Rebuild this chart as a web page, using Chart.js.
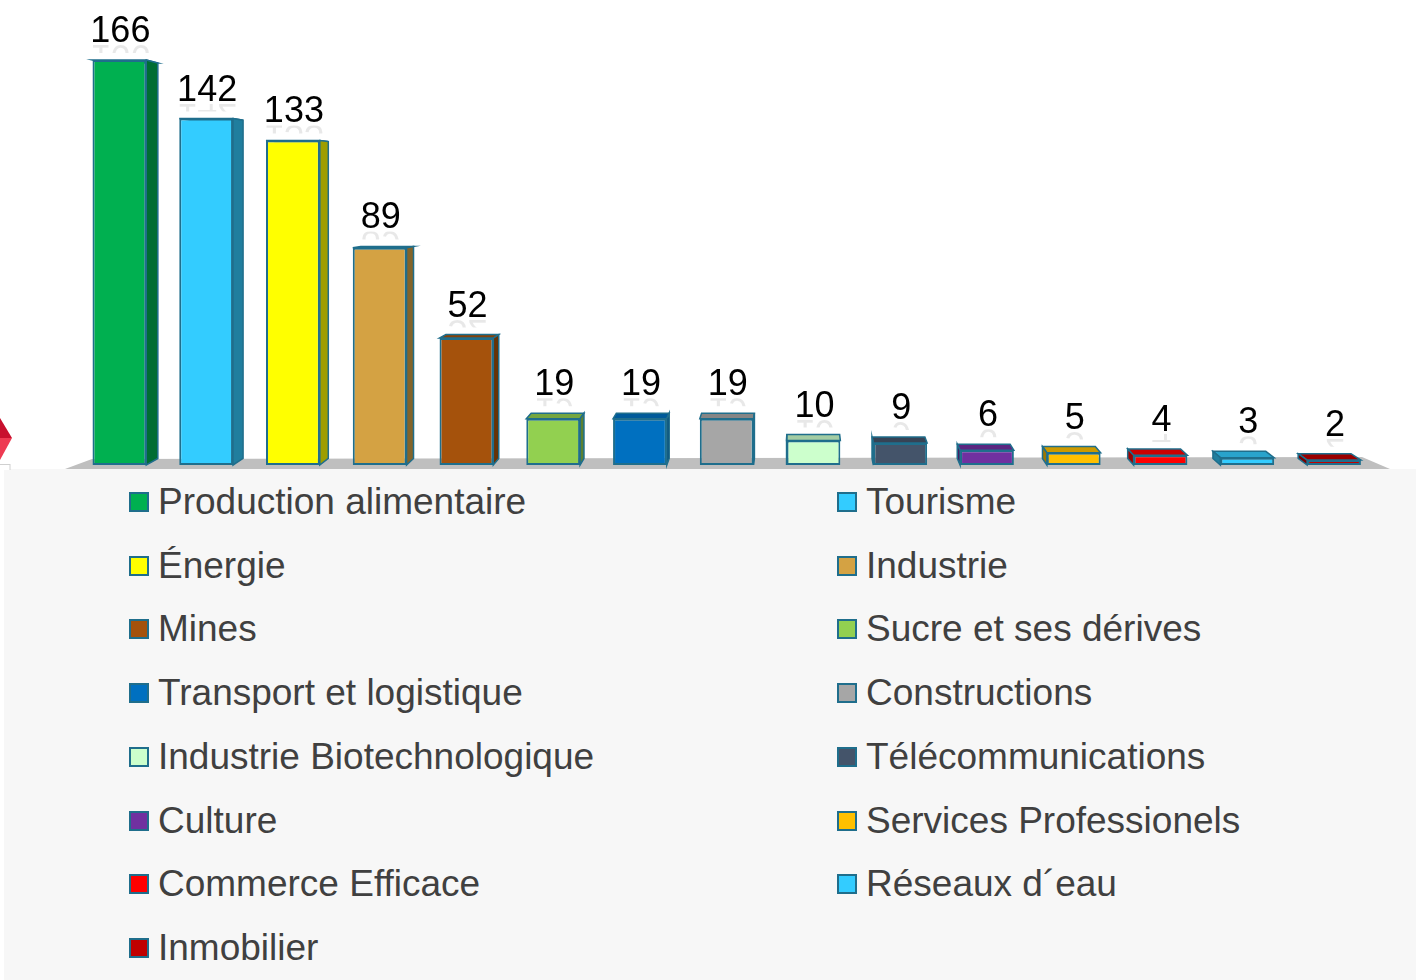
<!DOCTYPE html>
<html>
<head>
<meta charset="utf-8">
<script src="https://cdn.jsdelivr.net/npm/chart.js@4.4.0/dist/chart.umd.min.js"></script>
<style>
  body { margin:0; background:#fff; width:1416px; height:980px; overflow:hidden; position:relative; font-family:"Liberation Sans", Arial, sans-serif; }
  #wrap { position:absolute; left:0; top:0; width:1416px; height:470px; }
  #panel { position:absolute; left:4px; top:469px; width:1412px; height:511px; background:#f7f7f7; }
  #legend { position:absolute; left:0; top:470px; width:1416px; }
  .item { position:absolute; height:63px; line-height:63px; font-size:37px; color:#404040; white-space:nowrap; }
  .item .box { position:absolute; left:0; top:22px; width:20px; height:20px; box-sizing:border-box; border:2px solid #1f6e8c; }
  .item .txt { position:absolute; left:29px; top:0; }
</style>
</head>
<body>
<div id="panel"></div>
<div id="wrap"><canvas id="myChart" width="1416" height="470"></canvas></div>
<div id="legend"></div>
<script>
// data
var categories = ["Production alimentaire", "Tourisme", "Énergie", "Industrie", "Mines",
  "Sucre et ses dérives", "Transport et logistique", "Constructions", "Industrie Biotechnologique",
  "Télécommunications", "Culture", "Services Professionels", "Commerce Efficace", "Réseaux d´eau", "Inmobilier"];
var values = [166, 142, 133, 89, 52, 19, 19, 19, 10, 9, 6, 5, 4, 3, 2];
var barColors = ["#00b050", "#33ccff", "#ffff00", "#d4a243", "#a5520c",
  "#92d050", "#0070c0", "#a6a6a6", "#ccffcc", "#44546a",
  "#7030a0", "#ffc000", "#ff0000", "#33ccff", "#c00000"];

var edgeColor = "#1f6e8c";
var vp = {x: 800, y: 187, kx: 0.0177, ky: 0.0236};   // perspective for the 3d look

function shade(hex, f){
  var n = parseInt(hex.slice(1), 16);
  var r = Math.round(((n >> 16) & 255) * f), g = Math.round(((n >> 8) & 255) * f), b = Math.round((n & 255) * f);
  return "rgb(" + r + "," + g + "," + b + ")";
}

function back(x, y){
  return [x + (vp.x - x) * vp.kx, y + (vp.y - y) * vp.ky];
}

function poly(ctx, pts, fill){
  ctx.beginPath();
  ctx.moveTo(pts[0][0], pts[0][1]);
  for (var i = 1; i < pts.length; i++) ctx.lineTo(pts[i][0], pts[i][1]);
  ctx.closePath();
  ctx.fillStyle = fill;
  ctx.fill();
  ctx.lineWidth = 1.5;
  ctx.strokeStyle = edgeColor;
  ctx.stroke();
}

var depthPlugin = {
  id: "depth",
  beforeDatasetsDraw: function(chart){
    var ctx = chart.ctx;
    ctx.save();
    // floor
    ctx.beginPath();
    ctx.moveTo(65, 469); ctx.lineTo(1390, 469); ctx.lineTo(1362, 457); ctx.lineTo(92, 459);
    ctx.closePath();
    ctx.fillStyle = "#bfbfbf";
    ctx.fill();
    // red mark at the left edge
    ctx.beginPath(); ctx.moveTo(0, 418); ctx.lineTo(12, 438); ctx.lineTo(0, 438); ctx.closePath();
    ctx.fillStyle = "#c8102e"; ctx.fill();
    ctx.beginPath(); ctx.moveTo(0, 438); ctx.lineTo(12, 438); ctx.lineTo(0, 460); ctx.closePath();
    ctx.fillStyle = "#ee3a52"; ctx.fill();
    ctx.fillStyle = "#fff"; ctx.strokeStyle = "#d0d0d0"; ctx.lineWidth = 1;
    ctx.fillRect(0, 464, 10, 7); ctx.strokeRect(-1, 464.5, 11, 6);

    var meta = chart.getDatasetMeta(0);
    meta.data.forEach(function(bar, i){
      var p = bar.getProps(["x", "y", "base", "width"], true);
      var x0 = p.x - p.width / 2, x1 = p.x + p.width / 2, y0 = p.y, y1 = p.base;
      var a = back(x0, y0), b = back(x1, y0), c = back(x1, y1), d = back(x0, y1);
      var col = barColors[i];
      // top face
      poly(ctx, [[x0, y0], [x1, y0], b, a], shade(col, 0.8));
      // side faces
      if (p.x < vp.x) poly(ctx, [[x1, y0], b, c, [x1, y1]], shade(col, 0.62));
      else poly(ctx, [[x0, y0], a, d, [x0, y1]], shade(col, 0.62));
    });
    ctx.restore();
  },
  afterDatasetsDraw: function(chart){
    var ctx = chart.ctx;
    var meta = chart.getDatasetMeta(0);
    ctx.save();
    ctx.font = "36px 'Liberation Sans', Arial, sans-serif";
    ctx.textAlign = "center";
    ctx.textBaseline = "alphabetic";
    meta.data.forEach(function(bar, i){
      var p = bar.getProps(["x", "y"], true);
      var top = Math.min(p.y, back(p.x, p.y)[1]);
      var by = top - 18;
      var tx = p.x + 1;
      ctx.fillStyle = "#000";
      ctx.fillText(String(values[i]), tx, by);
      // faint reflection
      ctx.save();
      ctx.beginPath(); ctx.rect(tx - 40, by + 3, 80, 8); ctx.clip();
      ctx.translate(tx, by + 3);
      ctx.scale(1, -1);
      ctx.globalAlpha = 0.09;
      ctx.fillText(String(values[i]), 0, 0);
      ctx.restore();
    });
    ctx.restore();
  }
};

var ctx = document.getElementById("myChart").getContext("2d");
var myChart = new Chart(ctx, {
  type: "bar",
  data: {
    labels: categories,
    datasets: [{
      data: values,
      backgroundColor: barColors,
      borderColor: edgeColor,
      borderWidth: 2,
      borderSkipped: false,
      barPercentage: 0.62,
      categoryPercentage: 1
    }]
  },
  options: {
    responsive: false,
    animation: false,
    layout: { padding: { top: 25.8, bottom: 5, left: 76, right: 38.6 } },
    plugins: { legend: { display: false }, tooltip: { enabled: false } },
    scales: {
      x: { display: false },
      y: { display: false, min: 0, max: 180 }
    }
  },
  plugins: [depthPlugin]
});

// legend, two columns
var legend = document.getElementById("legend");
categories.forEach(function(name, i){
  var col = i % 2, row = Math.floor(i / 2);
  var item = document.createElement("div");
  item.className = "item";
  item.style.left = (col === 0 ? 129 : 837) + "px";
  item.style.top = (row * 63.7) + "px";
  item.innerHTML = '<span class="box" style="background:' + barColors[i] + '"></span><span class="txt"></span>';
  item.querySelector(".txt").textContent = name;
  legend.appendChild(item);
});
</script>
</body>
</html>
